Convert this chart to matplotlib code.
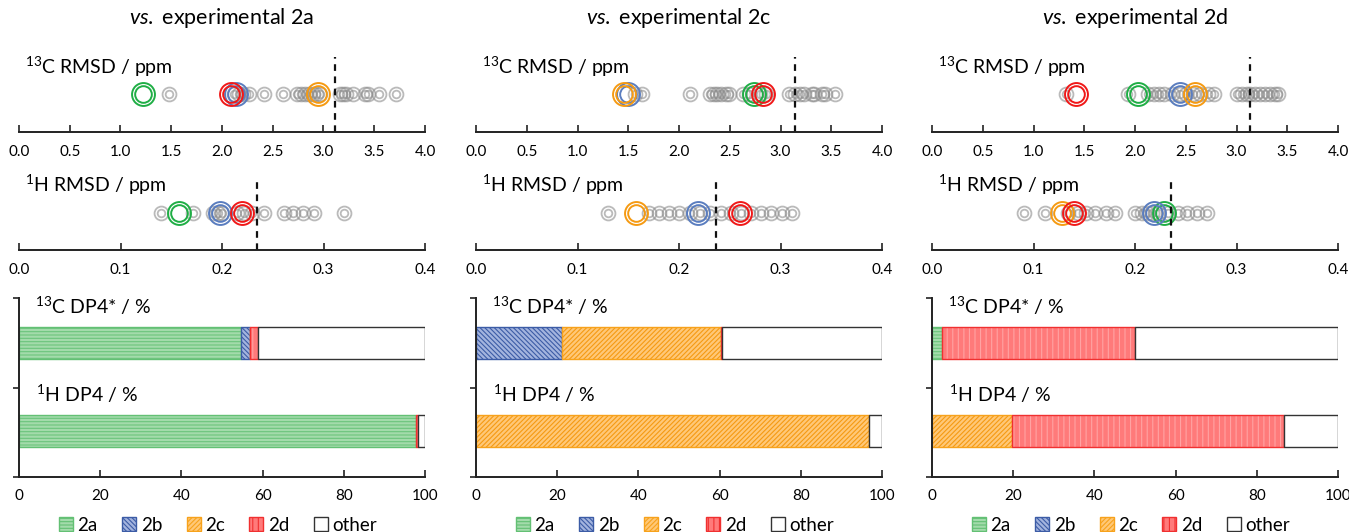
import numpy as np
import matplotlib
matplotlib.use('Agg')
from matplotlib import pyplot as plt
from matplotlib.patches import Patch

plt.rcParams['font.family'] = ['Lato', 'DejaVu Sans']
plt.rcParams['mathtext.fontset'] = 'custom'
plt.rcParams['mathtext.rm'] = 'Lato'
plt.rcParams['mathtext.it'] = 'Lato:italic'
plt.rcParams['mathtext.default'] = 'regular'
plt.rcParams['hatch.linewidth'] = 0.8

# ---- data ----
titles = ['2a', '2c', '2d']
candidates = ['2a', '2b', '2c', '2d']

# gray candidates, 13C RMSD (ppm)
c13_gray_a = [1.48, 2.12, 2.17, 2.21, 2.27, 2.41, 2.60, 2.74, 2.78, 2.82, 2.86, 2.90, 2.93, 2.97,
              3.16, 3.19, 3.22, 3.29, 3.41, 3.44, 3.55, 3.71]
c13_gray_c = [1.57, 1.64, 2.11, 2.31, 2.34, 2.37, 2.41, 2.46, 2.49, 2.63, 2.69, 2.80, 2.86,
              3.08, 3.14, 3.19, 3.23, 3.31, 3.33, 3.41, 3.44, 3.54]
c13_gray_d = [1.32, 1.93, 2.13, 2.19, 2.24, 2.29, 2.36, 2.44, 2.50, 2.57, 2.64, 2.72, 2.78,
              3.00, 3.05, 3.10, 3.13, 3.18, 3.23, 3.28, 3.33, 3.38, 3.41]
# highlighted 2a, 2b, 2c, 2d
c13_hl_a = [1.22, 2.14, 2.95, 2.09]
c13_hl_c = [2.74, 1.50, 1.46, 2.83]
c13_hl_d = [2.03, 2.44, 2.59, 1.415]

# gray candidates, 1H RMSD (ppm)
h1_gray_a = [0.140, 0.171, 0.191, 0.196, 0.200, 0.215, 0.222, 0.230, 0.241, 0.261, 0.270,
             0.280, 0.291, 0.320]
h1_gray_c = [0.130, 0.170, 0.180, 0.190, 0.200, 0.211, 0.221, 0.231, 0.241, 0.251, 0.261,
             0.271, 0.281, 0.291, 0.301, 0.311]
h1_gray_d = [0.091, 0.111, 0.134, 0.144, 0.152, 0.161, 0.171, 0.180, 0.200, 0.207, 0.212,
             0.217, 0.223, 0.233, 0.242, 0.251, 0.261, 0.271]
h1_hl_a = [0.158, 0.198, np.nan, 0.220]
h1_hl_c = [np.nan, 0.219, 0.158, 0.260]
h1_hl_d = [0.229, 0.219, 0.128, 0.140]

c13_cutoff = [3.115, 3.145, 3.13]
h1_cutoff = [0.234, 0.236, 0.235]

# DP4 probabilities (%): 2a, 2b, 2c, 2d, other
dp4_c13_a = [54.6, 2.2, 0.2, 1.9, 41.1]
dp4_c13_c = [0.0, 21.2, 39.2, 0.2, 39.4]
dp4_c13_d = [2.5, 0.0, 0.0, 47.4, 50.1]
dp4_h1_a = [97.9, 0.0, 0.0, 0.4, 1.7]
dp4_h1_c = [0.0, 0.0, 96.9, 0.0, 3.1]
dp4_h1_d = [0.0, 0.0, 19.8, 66.8, 13.4]

c13_gray = [c13_gray_a, c13_gray_c, c13_gray_d]
c13_hl = [c13_hl_a, c13_hl_c, c13_hl_d]
h1_gray = [h1_gray_a, h1_gray_c, h1_gray_d]
h1_hl = [h1_hl_a, h1_hl_c, h1_hl_d]
dp4_c13 = [dp4_c13_a, dp4_c13_c, dp4_c13_d]
dp4_h1 = [dp4_h1_a, dp4_h1_c, dp4_h1_d]

# ---- styles ----
ring_col = ['#1fae45', '#5a7dbf', '#f59a12', '#f01818']
bar_face = ['#a3dbab', '#a3b4de', '#ffc878', '#ff7a7a', 'white']
bar_hatchcol = ['#6cc47c', '#3c5ca6', '#f59a12', '#ffa3a3', 'white']
bar_edge = ['#63c074', '#3c5ca6', '#f7a21b', '#f03030', '#333333']
bar_hatch = ['-----', '\\\\\\\\\\\\\\', '///////', '|||', None]
legend_labels = ['2a', '2b', '2c', '2d', 'other']
axcol = '#222222'

W, H = 1349, 532
fig = plt.figure(figsize=(W / 100, H / 100), dpi=100)


def box(x0, top, w, bottom):
    return [x0 / W, 1 - bottom / H, w / W, (bottom - top) / H]


def rmsd_axes(ax, xmax, step, label, cutoff, gray, hl, fmt, dash_top, lab_y):
    ax.set_xlim(0, xmax)
    ax.set_ylim(0, 1)
    for s in ['top', 'right', 'left']:
        ax.spines[s].set_visible(False)
    ax.spines['bottom'].set_linewidth(1.4)
    ax.spines['bottom'].set_color(axcol)
    ax.set_yticks([])
    ticks = np.arange(0, xmax + 1e-9, step)
    ax.set_xticks(ticks)
    ax.set_xticklabels([fmt.format(t) for t in ticks])
    ax.tick_params(axis='x', direction='in', length=5, width=1.2, color=axcol,
                   labelsize=11, pad=9)
    ax.patch.set_alpha(0)
    y = np.full(len(gray), 0.5)
    ax.plot(gray, y, 'o', ms=10, mfc='none', mec='#8c8c8c', mew=1.3, alpha=0.6, ls='none')
    ax.plot(gray, y, 'o', ms=5.5, mfc='none', mec='#8c8c8c', mew=1.3, alpha=0.6, ls='none')
    for v, c in zip(hl, ring_col):
        if np.isnan(v):
            continue
        ax.plot([v], [0.5], 'o', ms=16.5, mfc='none', mec=c, mew=1.4)
        ax.plot([v], [0.5], 'o', ms=12, mfc='none', mec=c, mew=1.4)
    ax.axvline(cutoff, ymin=0, ymax=dash_top, color='#111111', ls=(0, (3, 2.5)), lw=1.6)
    ax.text(0.015, lab_y, label, transform=ax.transAxes, fontsize=14, va='center', ha='left')


panel_x = [19, 476, 932]
panel_w = 406

for i in range(3):
    x0 = panel_x[i]
    fig.text((x0 + panel_w / 2) / W, 1 - 18 / H,
             r'$\mathit{vs.}$ experimental ' + titles[i],
             ha='center', va='center', fontsize=15.5)

    ax1 = fig.add_axes(box(x0, 55, panel_w, 132))
    rmsd_axes(ax1, 4.0, 0.5, r'$^{13}$C RMSD / ppm', c13_cutoff[i], c13_gray[i], c13_hl[i],
              '{:.1f}', 0.97, 0.84)

    ax2 = fig.add_axes(box(x0, 175, panel_w, 250))
    rmsd_axes(ax2, 0.4, 0.1, r'$^{1}$H RMSD / ppm', h1_cutoff[i], h1_gray[i], h1_hl[i],
              '{:.1f}', 0.91, 0.87)

    ax3 = fig.add_axes(box(x0, 298, panel_w, 477))
    ax3.set_xlim(0, 100)
    ax3.set_ylim(0, 2)
    for s in ['top', 'right']:
        ax3.spines[s].set_visible(False)
    for s in ['bottom', 'left']:
        ax3.spines[s].set_linewidth(1.4)
        ax3.spines[s].set_color(axcol)
    ax3.set_xticks(np.arange(0, 101, 20))
    ax3.set_yticks([0, 1, 2])
    ax3.set_yticklabels([])
    ax3.tick_params(axis='x', direction='in', length=5, width=1.2, color=axcol,
                    labelsize=11, pad=9)
    ax3.tick_params(axis='y', direction='out', length=4, width=1.2, color=axcol)
    for yc, vals in [(1.5, dp4_c13[i]), (0.51, dp4_h1[i])]:
        left = 0.0
        for k, v in enumerate(vals):
            if v <= 0:
                continue
            # fill + hatch, then outline on top
            ax3.barh(yc, v, left=left, height=0.36, color=bar_face[k],
                     edgecolor=bar_hatchcol[k], hatch=bar_hatch[k], linewidth=0)
            ax3.barh(yc, v, left=left, height=0.36, fill=False, edgecolor=bar_edge[k],
                     linewidth=1.0)
            left += v
    ax3.text(4.0, 1.91, r'$^{13}$C DP4* / %', fontsize=14, va='center', ha='left')
    ax3.text(4.2, 0.93, r'$^{1}$H DP4 / %', fontsize=14, va='center', ha='left')

    handles = [Patch(facecolor=bar_face[k], edgecolor=bar_edge[k], hatch=bar_hatch[k],
                     linewidth=1.0) for k in range(5)]
    ax3.legend(handles, legend_labels, loc='center', bbox_to_anchor=(0.49, -0.27), ncol=5,
               frameon=False, fontsize=13.5, handlelength=0.75, handleheight=0.75,
               handletextpad=0.25, columnspacing=1.3, borderaxespad=0)

fig.savefig('out.png', dpi=100)
